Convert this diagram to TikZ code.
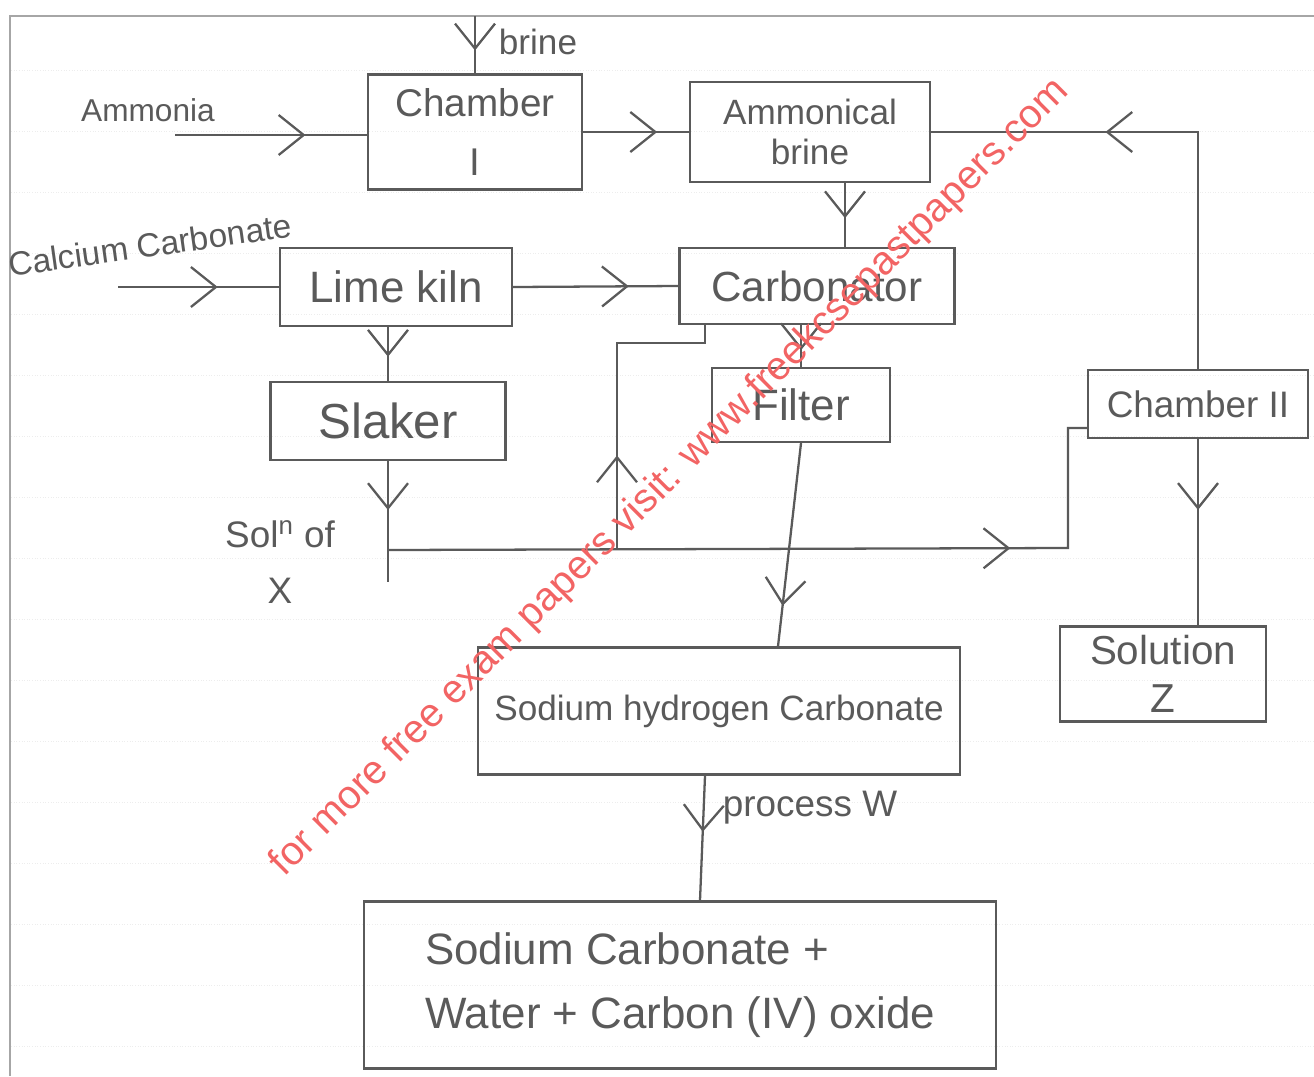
\documentclass[tikz,border=0pt]{standalone}
\usepackage{fontspec}
\setmainfont{Liberation Sans}
\usetikzlibrary{arrows.meta,decorations.markings}
\definecolor{ink}{HTML}{5A5A5A}
\definecolor{wm}{HTML}{F26464}
\newcommand\myfs[2]{\fontsize{#1}{#2}\selectfont}
\tikzset{
 box/.style={draw=ink, line width=1.3pt, inner sep=2pt, text=ink, align=center},
 flow/.style={draw=ink, line width=1.3pt},
 midarrow/.style={postaction={decorate,decoration={markings,mark=at position #1 with {\arrow{Straight Barb[length=5mm,width=8mm,line width=1.3pt]}}}}},
 midarrow/.default=0.5,
 lbl/.style={text=ink, inner sep=0pt, align=center},
}
\begin{document}
\begin{tikzpicture}[x=0.02cm,y=-0.02cm]
\useasboundingbox (0,0) rectangle (1314,1076);
% notebook ruling and page edge
\foreach \yy in {70,131,192,253,314,375,436,497,558,619,680,741,802,863,924,985,1046}
  \draw[gray!14, line width=0.5pt, densely dotted] (11,\yy) -- (1314,\yy);
\draw[gray!70, line width=0.6pt] (1314,16) -- (10,16) -- (10,1076);

% boxes
\node[box, minimum width=4.28cm, minimum height=2.3cm, font=\myfs{22}{34}] (ch1) at (475,132) {Chamber\\I};
\node[box, minimum width=4.8cm, minimum height=2cm, font=\myfs{20}{23}] (ab) at (810,132) {Ammonical\\brine};
\node[box, minimum width=4.64cm, minimum height=1.56cm, font=\myfs{25}{30}] (lk) at (396,287) {Lime kiln};
\node[box, minimum width=5.5cm, minimum height=1.52cm, font=\myfs{24}{30}] (carb) at (817,286) {Carbonator};
\node[box, minimum width=4.7cm, minimum height=1.56cm, font=\myfs{28}{30}] (sl) at (388,421) {Slaker};
\node[box, minimum width=3.56cm, minimum height=1.48cm, font=\myfs{25}{30}] (fil) at (801,405) {Filter};
\node[box, minimum width=4.4cm, minimum height=1.36cm, font=\myfs{21}{26}] (ch2) at (1198,404) {Chamber II};
\node[box, minimum width=4.12cm, minimum height=1.9cm, font=\myfs{23}{27}] (solz) at (1163,674) {Solution\\Z};
\node[box, minimum width=9.64cm, minimum height=2.54cm, font=\myfs{20}{24}] (nah) at (719,711) {Sodium hydrogen Carbonate};
\node[box, minimum width=12.64cm, minimum height=3.34cm, font=\myfs{25}{36}, align=left] (prod) at (680,985) {Sodium Carbonate +\\Water + Carbon (IV) oxide};

% labels
\node[lbl, font=\myfs{20}{24}] (brinelbl) at (538,42) {brine};
\node[lbl, font=\myfs{18}{22}] (amlbl) at (148,110) {Ammonia};
\node[lbl, font=\myfs{19}{22}, rotate=8] (calbl) at (150,245) {Calcium Carbonate};
\node[lbl, font=\myfs{21}{32}] (xlbl) at (280,562) {Sol\textsuperscript{n} of\\X};
\node[lbl, font=\myfs{21}{24}] (wlbl) at (810,808) {process W};

% connectors
\coordinate (brtop) at (475,16);
\draw[flow, midarrow=0.6] (brtop) -- (ch1.north);
\coordinate (amst) at (175,135);
\draw[flow, midarrow=0.68] (amst) -- (amst -| ch1.west);
\draw[flow, midarrow=0.7] (ch1.east) -- (ab.west);
\draw[flow, midarrow=0.654] (ch2.north) |- (ab.east);
\draw[flow, midarrow=0.55] ([xshift=0.7cm]ab.south) -- ([xshift=0.7cm]ab.south |- carb.north);
\coordinate (cast) at (118,287);
\draw[flow, midarrow=0.62] (cast) -- (cast -| lk.west);
\draw[flow, midarrow=0.7] (lk.east) -- (carb.west);
\draw[flow, midarrow=0.55] (sl.north |- lk.south) -- (sl.north);
\coordinate (jx) at (388,550);
\coordinate (xend) at (388,582);
\draw[flow, midarrow=0.55] (sl.south) -- (jx);
\draw[flow] (jx) -- (xend);
\coordinate (jr) at (1068,548);
\coordinate (jrt) at (1068,428);
\draw[flow, midarrow=0.76] (jx) -- (jr) -- (jrt) -- (jrt -| ch2.west);
\coordinate (jb) at (617,549);
\coordinate (cb1) at (617,343);
\coordinate (cb2) at (705,343);
\draw[flow, midarrow=0.3] (jb) -- (cb1) -- (cb2) -- (cb2 |- carb.south);
\draw[flow, midarrow=0.6] (fil.north |- carb.south) -- (fil.north);
\draw[flow, midarrow=0.8] (fil.south) -- ([xshift=1.18cm]nah.north);
\draw[flow, midarrow=0.38] (ch2.south) -- (ch2.south |- solz.north);
\draw[flow, midarrow=0.45] ([xshift=-0.28cm]nah.south) -- ([xshift=0.4cm]prod.north);

% watermark
\node[text=wm, font=\myfs{22.8}{26}, rotate=45, inner sep=0pt] (wmark) at (670,478) {for more free exam papers visit: www.freekcsepastpapers.com};
\end{tikzpicture}
\end{document}
